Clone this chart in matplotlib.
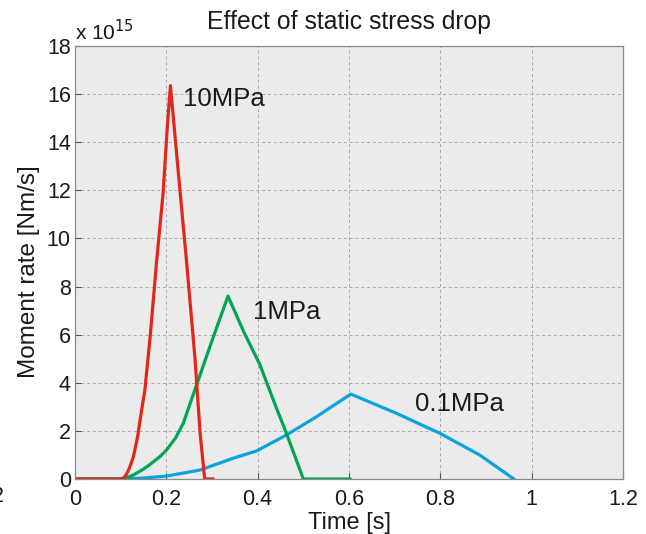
import matplotlib
matplotlib.use('Agg')
from matplotlib import pyplot as plt

plt.rcParams['font.family'] = ['Liberation Sans', 'DejaVu Sans']

# moment rate curves, values in units of 1e15 Nm/s
t_10 = [0, 0.10, 0.105, 0.11, 0.115, 0.12, 0.128, 0.137, 0.146, 0.153, 0.165,
        0.179, 0.193, 0.202, 0.209, 0.225, 0.244, 0.263, 0.274, 0.284, 0.302]
m_10 = [0, 0, 0.03, 0.12, 0.28, 0.5, 0.93, 1.75, 2.87, 3.7, 6.0,
        9.1, 11.9, 14.6, 16.35, 13.0, 9.1, 4.95, 1.9, 0, 0]

t_1 = [0, 0.10, 0.115, 0.128, 0.149, 0.164, 0.186, 0.2, 0.22, 0.237, 0.266,
       0.30, 0.335, 0.37, 0.405, 0.44, 0.463, 0.50, 0.602]
m_1 = [0, 0, 0.07, 0.17, 0.4, 0.6, 0.93, 1.2, 1.7, 2.31, 3.9,
       5.75, 7.6, 6.1, 4.75, 3.0, 1.9, 0, 0]

t_01 = [0, 0.10, 0.15, 0.2, 0.2735, 0.346, 0.398, 0.463, 0.529, 0.604,
        0.704, 0.799, 0.886, 0.961]
m_01 = [0, 0, 0.04, 0.12, 0.37, 0.86, 1.17, 1.83, 2.59, 3.53,
        2.73, 1.9, 1.0, 0]

labels = ['10MPa', '1MPa', '0.1MPa']
label_pos = [(0.236, 15.8), (0.389, 6.94), (0.744, 3.12)]

fig = plt.figure(figsize=(6.46, 5.34), dpi=100)
ax = fig.add_axes([0.1161, 0.103, 0.8483, 0.8109])
ax.set_facecolor('#ebebeb')

ax.plot(t_01, m_01, color='#0ba3dc', lw=2.3)
ax.plot(t_1, m_1, color='#00a651', lw=2.3)
ax.plot(t_10, m_10, color='#e3261c', lw=2.3)

for lab, (x, y) in zip(labels, label_pos):
    ax.text(x, y, lab, fontsize=18.5, ha='left', va='center', color='#1a1a1a')

ax.set_xlim(0, 1.2)
ax.set_ylim(0, 18)
ax.set_xticks([0, 0.2, 0.4, 0.6, 0.8, 1, 1.2])
ax.set_xticklabels(['0', '0.2', '0.4', '0.6', '0.8', '1', '1.2'])
ax.set_yticks(range(0, 19, 2))
ax.grid(True, color='#a8a8a8', linestyle=(0, (3, 3)), linewidth=0.7)
ax.set_axisbelow(True)
for s in ax.spines.values():
    s.set_color('#8a8a8a')
    s.set_linewidth(0.9)
ax.tick_params(direction='in', length=4, color='#555555', labelsize=15.5,
               labelcolor='#1a1a1a')
ax.tick_params(axis='x', pad=7.5)
ax.tick_params(axis='y', pad=3)

ax.text(0.0, 1.003, r'x 10$^{15}$', transform=ax.transAxes, fontsize=15,
        ha='left', va='bottom', color='#1a1a1a')
ax.set_title('Effect of static stress drop', fontsize=17.8, color='#1a1a1a', pad=12)
ax.set_xlabel('Time [s]', fontsize=17, color='#1a1a1a', labelpad=1)
ax.set_ylabel('Moment rate [Nm/s]', fontsize=17.5, color='#1a1a1a', labelpad=5)
ax.yaxis.label.set_y(0.48)

# clipped tick label from a neighbouring panel
fig.text(-8.5 / 646, 1 - 497 / 534, '2', fontsize=15.5, ha='left', va='center',
         color='#1a1a1a')

plt.savefig('out.png', dpi=100)
